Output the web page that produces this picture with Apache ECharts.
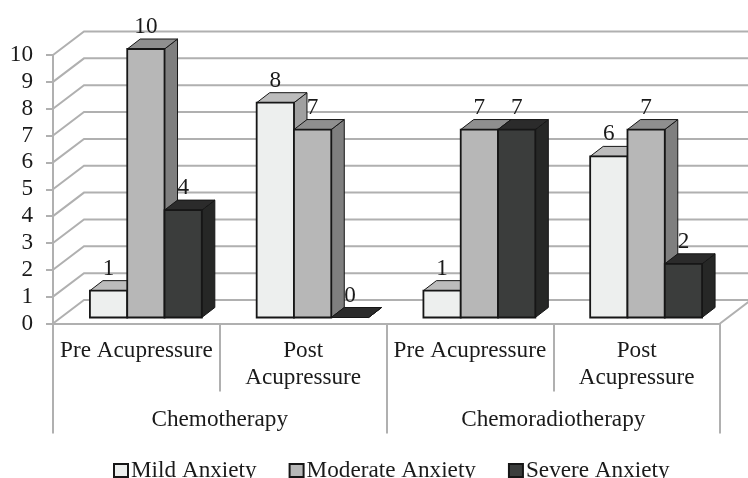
<!DOCTYPE html>
<html><head><meta charset="utf-8">
<style>html,body{margin:0;padding:0;background:#fff;overflow:hidden}#c{width:748px;height:478px}</style>
<script src="https://cdn.jsdelivr.net/npm/echarts@6/dist/echarts.min.js"></script>
</head><body><div id="c"></div>
<script>
const categories = ['Pre Acupressure', 'Post\nAcupressure', 'Pre Acupressure', 'Post\nAcupressure'];
const groups = ['Chemotherapy', 'Chemoradiotherapy'];
const yTicks = [0,1,2,3,4,5,6,7,8,9,10];
const mild = [1,8,1,6];
const moderate = [10,7,7,7];
const severe = [4,0,7,2];

const FONT = '"Liberation Serif","Times New Roman",serif';
const FS = 23.2;
const AXIS = '#b0b0b0';
const EDGE = '#161616';
const WALL_DX = 31, WALL_DY = -23.5;
const BAR_DX = 13, BAR_DY = -10;
const SHIFT_X = 9.5, SHIFT_Y = -6;
const BAR_FRAC = 0.2237;

const seriesDefs = [
  {name:'Mild Anxiety', values:mild, front:'#edefee', top:'#bcbcbc', side:'#a0a0a0', slot:-1},
  {name:'Moderate Anxiety', values:moderate, front:'#b7b7b7', top:'#8f8f8f', side:'#7f7f7f', slot:0},
  {name:'Severe Anxiety', values:severe, front:'#3b3d3c', top:'#2b2b2b', side:'#262726', slot:1}
];

function poly(points, fill, lw){
  return {type:'polygon', shape:{points}, style:{fill, stroke:EDGE, lineWidth:lw, lineJoin:'miter'}};
}
function barRender(def){
  return function(params, api){
    const cat = api.value(0), val = api.value(1);
    const band = api.size([1,0])[0], w = band*BAR_FRAC;
    const c = api.coord([cat,val]), b = api.coord([cat,0]);
    const x0 = c[0]+SHIFT_X+def.slot*w-w/2, x1 = x0+w;
    const yt = c[1]+SHIFT_Y, yb = b[1]+SHIFT_Y;
    const children = [];
    children.push(poly([[x1,yt],[x1+BAR_DX,yt+BAR_DY],[x1+BAR_DX,yb+BAR_DY],[x1,yb]],def.side,1));
    children.push(poly([[x0,yt],[x0+BAR_DX,yt+BAR_DY],[x1+BAR_DX,yt+BAR_DY],[x1,yt]],def.top,1));
    if (val>0) children.push(poly([[x0,yt],[x1,yt],[x1,yb],[x0,yb]],def.front,1.8));
    return {type:'group',children};
  };
}
function labelRender(def){
  return function(params, api){
    const cat = api.value(0), val = api.value(1);
    const band = api.size([1,0])[0], w = band*BAR_FRAC;
    const c = api.coord([cat,val]);
    return {type:'text', style:{text:String(val), x:c[0]+SHIFT_X+def.slot*w, y:c[1]+SHIFT_Y-22,
      fill:'#1a1a1a', font:FS+'px '+FONT, align:'center', verticalAlign:'middle'}};
  };
}
function wallRender(params, api){
  const v = api.value(0), band = api.size([1,0])[0];
  const l = api.coord([0,v]), r = api.coord([categories.length-1,v]);
  const xl = l[0]-band/2, xr = r[0]+band/2, y = l[1];
  const pts = [[xl,y],[xl+WALL_DX,y+WALL_DY],[xr+WALL_DX,y+WALL_DY]];
  if (v===0) pts.push([xr,y]);
  return {type:'polyline', shape:{points:pts}, style:{fill:'none', stroke:AXIS, lineWidth:2}};
}

const series = [
  {type:'custom', name:'wall', z:1, silent:true, xAxisIndex:0, yAxisIndex:0, data:yTicks.map(v=>[v]), encode:{x:-1,y:0}, renderItem:wallRender}
];
seriesDefs.forEach(d=>{
  series.push({type:'custom', name:d.name+' labels', z:2, silent:true, data:d.values.map((v,i)=>[i,v]), encode:{x:0,y:1}, renderItem:labelRender(d)});
});
seriesDefs.forEach(d=>{
  series.push({type:'custom', name:d.name, z:3, itemStyle:{color:d.front,borderColor:EDGE,borderWidth:1.5}, data:d.values.map((v,i)=>[i,v]), encode:{x:0,y:1}, renderItem:barRender(d)});
});

const chart = echarts.init(document.getElementById('c'), null, {renderer:'canvas', width:748, height:478});
chart.setOption({
  animation:false,
  backgroundColor:'#fff',
  textStyle:{fontFamily:FONT},
  grid:{left:53, right:28, top:55, bottom:154.5, containLabel:false},
  legend:{
    data:seriesDefs.map(d=>({name:d.name, icon:'rect'})),
    left:113, top:459, itemWidth:14, itemHeight:13, itemGap:32, padding:0,
    textStyle:{fontFamily:FONT, fontSize:FS, color:'#1a1a1a', padding:[0,0,0,-2]}, selectedMode:false
  },
  xAxis:[
    {type:'category', data:categories, position:'bottom',
     axisLine:{show:true,lineStyle:{color:AXIS,width:2}},
     axisTick:{show:true,length:68,alignWithLabel:false,lineStyle:{color:AXIS,width:2}},
     axisLabel:{show:true,interval:0,margin:14,fontFamily:FONT,fontSize:FS,color:'#1a1a1a',lineHeight:27,verticalAlign:'top'}},
    {type:'category', data:groups, position:'bottom',
     axisLine:{show:false},
     axisTick:{show:true,length:110,alignWithLabel:false,lineStyle:{color:AXIS,width:2}},
     axisLabel:{show:true,interval:0,margin:85,fontFamily:FONT,fontSize:FS,color:'#1a1a1a',verticalAlign:'top'}}
  ],
  yAxis:{type:'value', min:0, max:10, interval:1,
    splitLine:{show:false},
    axisLine:{show:true,lineStyle:{color:AXIS,width:2}},
    axisTick:{show:true,length:7,lineStyle:{color:AXIS,width:2}},
    axisLabel:{margin:20,fontFamily:FONT,fontSize:FS,color:'#1a1a1a',align:'right'}},
  series
});
</script></body></html>
